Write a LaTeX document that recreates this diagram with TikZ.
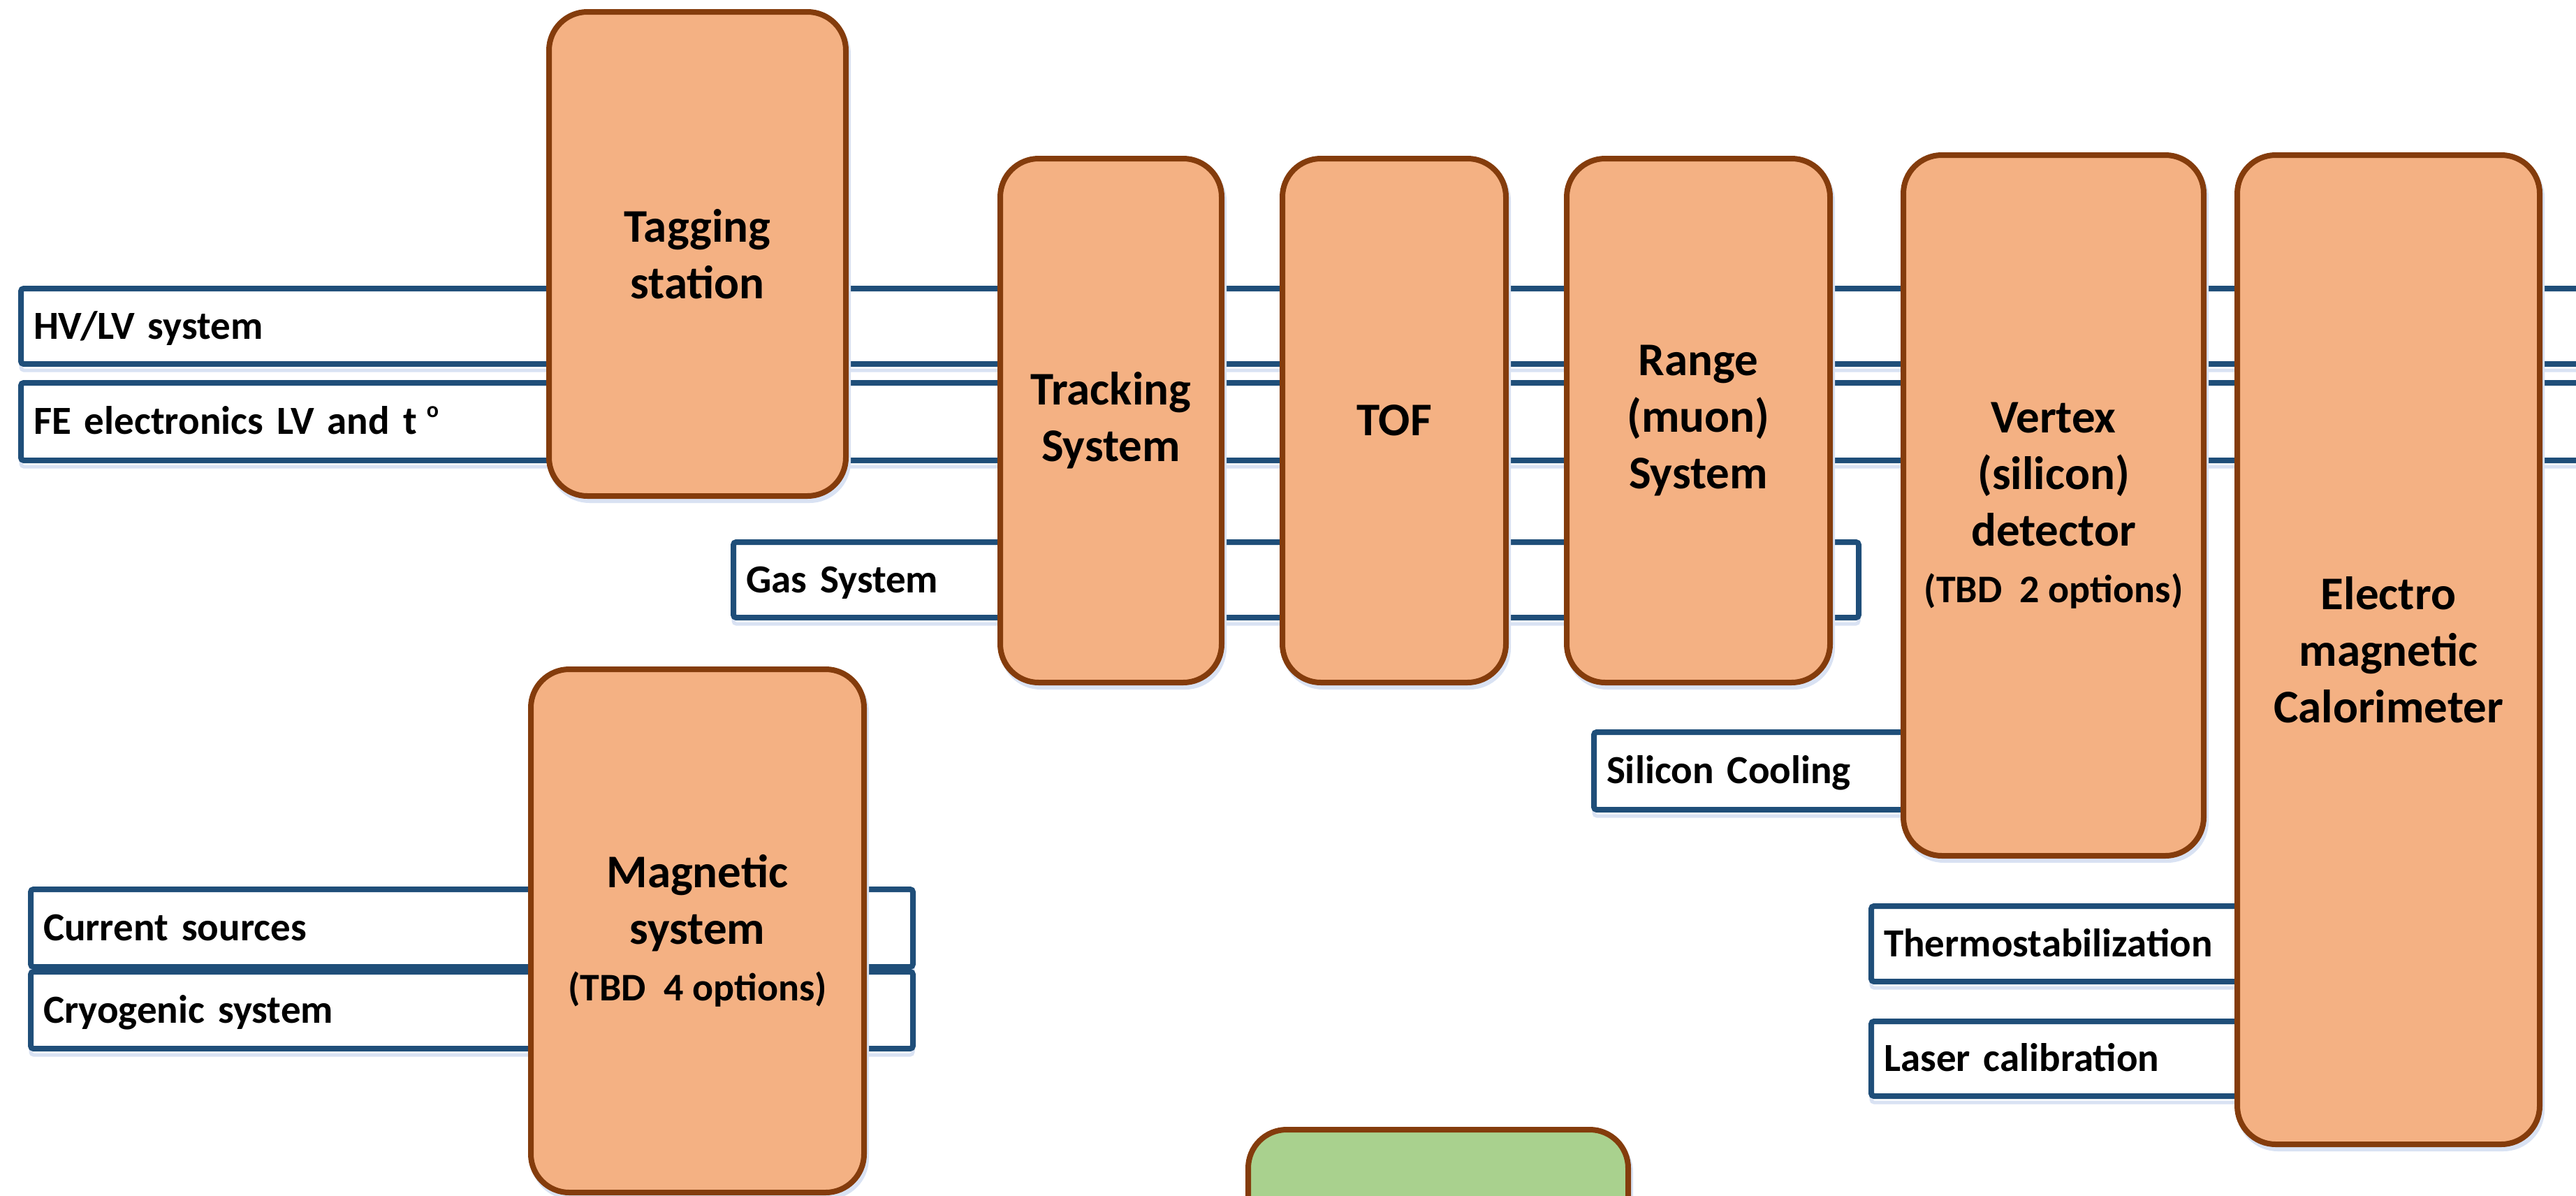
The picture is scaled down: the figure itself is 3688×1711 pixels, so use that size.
\documentclass[tikz,border=0pt]{standalone}
\usepackage{fontspec}
\setmainfont{Carlito}
\usetikzlibrary{shadows}
\definecolor{orfill}{HTML}{F4B183}
\definecolor{orline}{HTML}{843C0C}
\definecolor{railblue}{HTML}{1F4E79}
\definecolor{grfill}{HTML}{A9D18E}
\definecolor{shblue}{HTML}{D9E2F3}
\begin{document}
\begin{tikzpicture}[x=1pt,y=-1pt,
  unit/.style={draw=orline, fill=orfill, line width=8pt, rounded corners=55pt,
    inner sep=0pt, align=center, font=\fontsize{67}{81}\selectfont\bfseries,
    copy shadow={shadow xshift=3pt, shadow yshift=-6pt, draw=shblue, fill=shblue, line width=8pt}},
  rail/.style={draw=railblue, fill=white, line width=8pt, rounded corners=4pt,
    inner xsep=18pt, inner ysep=0pt, align=left,
    font=\fontsize{57}{68}\selectfont\bfseries, text height=36pt, text depth=0pt,
    copy shadow={shadow xshift=0pt, shadow yshift=-9pt, draw=shblue, fill=none, line width=5pt}}
]
\useasboundingbox (0,0) rectangle (3688,1711);
\clip (0,0) rectangle (3688,1711);

% service rails
\node[rail, minimum width=3770pt, minimum height=108pt, text width=3734pt] (hv) at (1915,467) {HV/LV system};
\node[rail, minimum width=3770pt, minimum height=111pt, text width=3734pt] (fe) at (1915,603.5) {FE electronics LV and t\hspace{14pt}\raisebox{24pt}{\fontsize{32}{32}\selectfont o}};
\node[rail, minimum width=1611pt, minimum height=108pt, text width=1575pt] (gas) at (1855.5,830) {Gas System};
\node[rail, minimum width=518pt, minimum height=111pt, text width=482pt] (sicool) at (2541,1103.5) {Silicon Cooling};
\node[rail, minimum width=1263pt, minimum height=111pt, text width=1227pt] (cur) at (675.5,1328.5) {Current sources};
\node[rail, minimum width=1263pt, minimum height=110pt, text width=1227pt] (cryo) at (675.5,1446) {Cryogenic system};
\node[rail, minimum width=621pt, minimum height=108pt, text width=585pt] (thermo) at (2989.5,1351) {Thermostabilization};
\node[rail, minimum width=621pt, minimum height=107pt, text width=585pt] (laser) at (2989.5,1515.5) {Laser calibration};

% detector units
\node[unit, minimum width=425pt, minimum height=693pt] (tag) at (998.5,363.5) {Tagging\\station};
\node[unit, minimum width=317pt, minimum height=750pt] (track) at (1590.5,602) {Tracking\\System};
\node[unit, minimum width=320pt, minimum height=750pt] (tof) at (1996,602) {TOF};
\node[unit, minimum width=377pt, minimum height=750pt] (range) at (2431.5,602) {Range\\(muon)\\System};
\node[unit, minimum width=430pt, minimum height=1003pt] (vertex) at (2940,723.5) {Vertex\\(silicon)\\detector\\{\fontsize{56}{68}\selectfont (TBD\ \ 2 options)}};
\node[unit, minimum width=433pt, minimum height=1416pt] (calo) at (3419.5,930) {Electro\\magnetic\\Calorimeter};
\node[unit, minimum width=477pt, minimum height=749pt] (mag) at (998.5,1332.5) {Magnetic\\system\\{\fontsize{56}{68}\selectfont (TBD\ \ 4 options)}};
\node[unit, fill=grfill, minimum width=544pt, minimum height=183pt] (green) at (2059,1708.5) {};
\end{tikzpicture}
\end{document}
